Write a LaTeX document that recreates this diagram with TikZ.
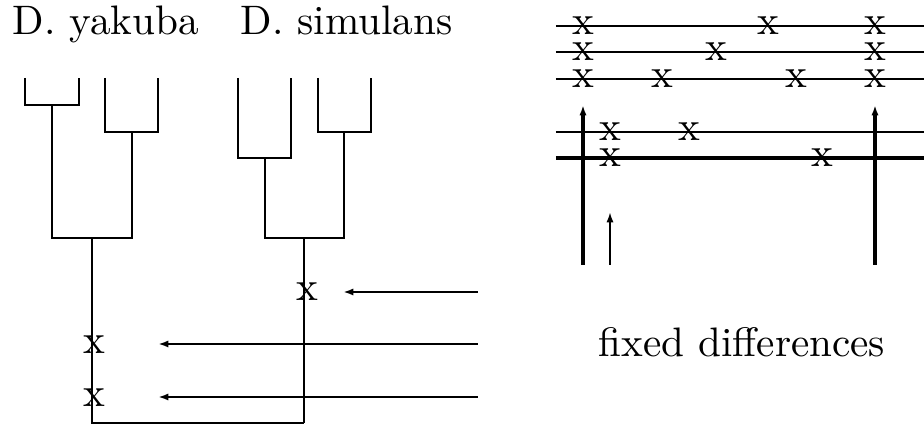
\documentclass[tikz,border=0pt]{standalone}
\usetikzlibrary{arrows.meta}
\tikzset{
  branch/.style={line width=0.5pt},
  stem/.style={line width=0.7pt},
  seqthin/.style={line width=0.5pt},
  seqthick/.style={line width=0.85pt},
  mutarr/.style={-{Latex[length=2.6pt,width=1.8pt]}, line width=0.6pt},
  site/.style={inner sep=0pt, font=\fontsize{10.3}{12}\selectfont},
  label/.style={inner sep=0pt, anchor=base west, font=\fontsize{10.3}{12}\selectfont}
}

\begin{document}
\begin{tikzpicture}[x=0.25pt, y=-0.25pt]
\useasboundingbox (0,0) rectangle (924,425);

% ── Species labels ──────────────────────────────────────────
\node[label] (yak) at (12,35) {D. yakuba};
\node[label] (sim) at (240,35) {D. simulans};

% ── Leaf pairs ──────────────────────────────────────────────
\foreach \l/\r/\b in {25/79/105, 105/158/132, 238/291/158, 318/371/132}
  \draw[branch] (\l,78) -- (\l,\b) -- (\r,\b) -- (\r,78);

% ── D. yakuba subtree ───────────────────────────────────────
\coordinate (yakroot) at (92,238);
\draw[branch] (52,105) -- (52,238) -- (132,238) -- (132,132);

% ── D. simulans subtree ─────────────────────────────────────
\coordinate (simroot) at (304,238);
\draw[branch] (265,158) -- (265,238) -- (344,238) -- (344,132);

% ── Common ancestor ─────────────────────────────────────────
\coordinate (yakbase) at (92,423);
\coordinate (simbase) at (304,423);
\draw[branch] (yakroot) -- (yakbase) -- (simbase);
\draw[stem] (simroot) -- (simbase);

% ── Substitutions on the tree ───────────────────────────────
\node[site] (m1) at (307,292) {x};
\node[site] (m2) at (94,345) {x};
\node[site] (m3) at (94,398) {x};

\coordinate (a1) at (478,292);
\coordinate (b1) at (343,292);
\coordinate (a2) at (478,344);
\coordinate (b2) at (158,344);
\coordinate (a3) at (478,397);
\coordinate (b3) at (158,397);
\draw[mutarr] (a1) -- (b1);
\draw[mutarr] (a2) -- (b2);
\draw[mutarr] (a3) -- (b3);

% ── Sequences ───────────────────────────────────────────────
\foreach \y in {26,52,79,132}
  \draw[seqthin] (556,\y) -- (924,\y);
\draw[seqthick] (556,158) -- (924,158);

\foreach \x/\y [count=\i] in {583/26, 768/26, 875/26,
                              583/52, 716/52, 875/52,
                              583/79, 662/79, 796/79, 875/79,
                              610/132, 689/132,
                              610/158, 822/158}
  \node[site] (s\i) at (\x,\y) {x};

% ── Fixed differences ───────────────────────────────────────
\coordinate (f1) at (583,265);
\coordinate (g1) at (583,105);
\coordinate (f2) at (875,265);
\coordinate (g2) at (875,105);
\coordinate (f3) at (610,265);
\coordinate (g3) at (610,212);
\draw[mutarr, line width=0.85pt] (f1) -- (g1);
\draw[mutarr, line width=0.85pt] (f2) -- (g2);
\draw[mutarr, line width=0.5pt] (f3) -- (g3);

\node[label] (fixed) at (598,357) {fixed differences};

\end{tikzpicture}
\end{document}
